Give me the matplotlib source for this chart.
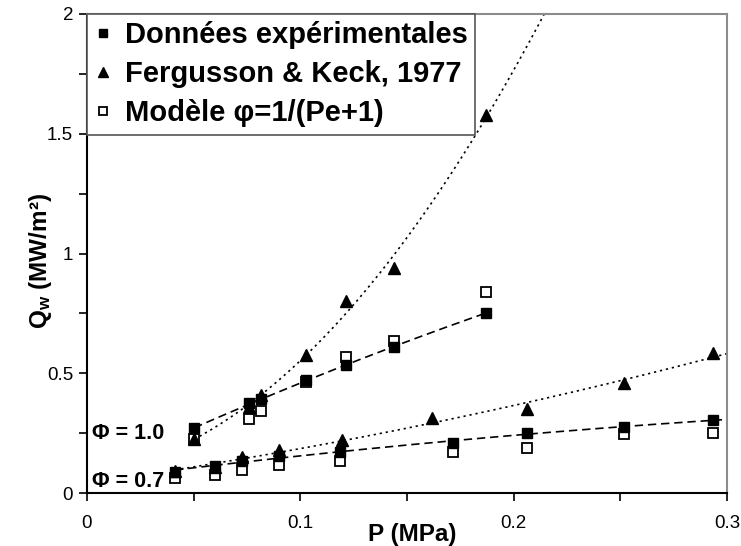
import numpy as np
import matplotlib
matplotlib.use("Agg")
import matplotlib.pyplot as plt
from matplotlib.ticker import MultipleLocator

plt.rcParams['font.family'] = ['Liberation Sans', 'DejaVu Sans']
plt.rcParams['mathtext.fontset'] = 'custom'
plt.rcParams['mathtext.rm'] = 'Liberation Sans:bold'
plt.rcParams['mathtext.bf'] = 'Liberation Sans:bold'
plt.rcParams['mathtext.it'] = 'Liberation Sans:bold'
plt.rcParams['mathtext.default'] = 'bf'
plt.rcParams['lines.scale_dashes'] = False

# phi = 1.0
phi1_x = [0.0503, 0.0761, 0.0816, 0.1025, 0.1213, 0.1439, 0.187]
phi1_exp = [0.270, 0.374, 0.392, 0.470, 0.534, 0.608, 0.753]
phi1_fk = [0.225, 0.360, 0.410, 0.576, 0.803, 0.938, 1.578]
phi1_model = [0.225, 0.309, 0.344, 0.465, 0.569, 0.636, 0.841]

# phi = 0.7
phi07_x = [0.0413, 0.060, 0.0725, 0.090, 0.1187, 0.1717, 0.2061, 0.2519, 0.2936]
phi07_exp = [0.089, 0.113, 0.135, 0.155, 0.173, 0.207, 0.249, 0.277, 0.305]
phi07_model = [0.061, 0.075, 0.096, 0.117, 0.135, 0.170, 0.187, 0.245, 0.252]
phi07_fk_x = [0.0413, 0.060, 0.0725, 0.090, 0.1194, 0.1619, 0.2061, 0.2519, 0.2936]
phi07_fk = [0.090, 0.110, 0.152, 0.180, 0.221, 0.315, 0.351, 0.458, 0.583]

labels = ["Données expérimentales", "Fergusson & Keck, 1977", "Modèle φ=1/(Pe+1)"]
xticks = [0, 0.1, 0.2, 0.3]
xticklabels = ['0', '0.1', '0.2', '0.3']
yticks = [0, 0.5, 1, 1.5, 2]
yticklabels = ['0', '0.5', '1', '1.5', '2']

fig = plt.figure(figsize=(7.41, 5.46), dpi=100)
ax = fig.add_axes([87 / 741, 53 / 546, 640 / 741, 479 / 546])

dashed = (0, (6, 3.5))
dotted = (0, (1.6, 2.8))


def trend(x, y, x0, x1, ls):
    c = np.polyfit(x, y, 2)
    xx = np.linspace(x0, x1, 200)
    ax.plot(xx, np.polyval(c, xx), color='black', lw=1.2, linestyle=ls, zorder=2)


trend(phi1_x, phi1_fk, phi1_x[0], 0.3, dotted)
trend(phi1_x, phi1_exp, phi1_x[0], phi1_x[-1], dashed)
trend(phi07_fk_x, phi07_fk, phi07_x[0], 0.3, dotted)
trend(phi07_x, phi07_exp, phi07_x[0], 0.3, dashed)

ms = 7.5
ax.plot(phi1_x + phi07_x, phi1_model + phi07_model, 's', ms=ms, mfc='white',
        mec='black', mew=1.3, zorder=3, label=labels[2])
ax.plot(phi1_x + phi07_x, phi1_exp + phi07_exp, 's', ms=ms, color='black',
        zorder=4, label=labels[0])
ax.plot(phi1_x + phi07_fk_x, phi1_fk + phi07_fk, '^', ms=ms + 0.5, color='black',
        zorder=5, label=labels[1])

ax.set_xlim(0, 0.3)
ax.set_ylim(0, 2)
ax.set_xticks(xticks)
ax.set_xticklabels(xticklabels)
ax.set_yticks(yticks)
ax.set_yticklabels(yticklabels)
ax.xaxis.set_minor_locator(MultipleLocator(0.05))
ax.yaxis.set_minor_locator(MultipleLocator(0.25))
ax.tick_params(which='both', direction='out', length=6, width=1.2, labelsize=13.5)
ax.tick_params(axis='x', pad=10)
ax.tick_params(axis='y', pad=4)

for s in ['left', 'bottom']:
    ax.spines[s].set_color('black')
    ax.spines[s].set_linewidth(1.5)
for s in ['top', 'right']:
    ax.spines[s].set_color('#8c8c8c')
    ax.spines[s].set_linewidth(1.5)

ax.set_xlabel('P (MPa)', fontsize=17.5, fontweight='bold')
ax.xaxis.set_label_coords(0.508, -0.062)
ax.set_ylabel('$Q_w$ (MW/m²)', fontsize=17.5, fontweight='bold')
ax.yaxis.set_label_coords(-0.052, 0.485)

ax.text(0.008, 0.125, 'Φ = 1.0', transform=ax.transAxes, fontsize=15.5,
        fontweight='bold', va='center', ha='left')
ax.text(0.008, 0.025, 'Φ = 0.7', transform=ax.transAxes, fontsize=15.5,
        fontweight='bold', va='center', ha='left')

h, l = ax.get_legend_handles_labels()
order = [1, 2, 0]
leg = ax.legend([h[i] for i in order], [l[i] for i in order], loc='upper left',
                bbox_to_anchor=(0, 1), borderaxespad=0, fancybox=False,
                edgecolor='#555555', framealpha=1, prop={'weight': 'bold', 'size': 21},
                handlelength=0.6, handletextpad=0.45, labelspacing=0.38,
                markerscale=0.85, borderpad=0.25)
leg.get_frame().set_linewidth(1.2)

fig.savefig('out.png', dpi=100)
